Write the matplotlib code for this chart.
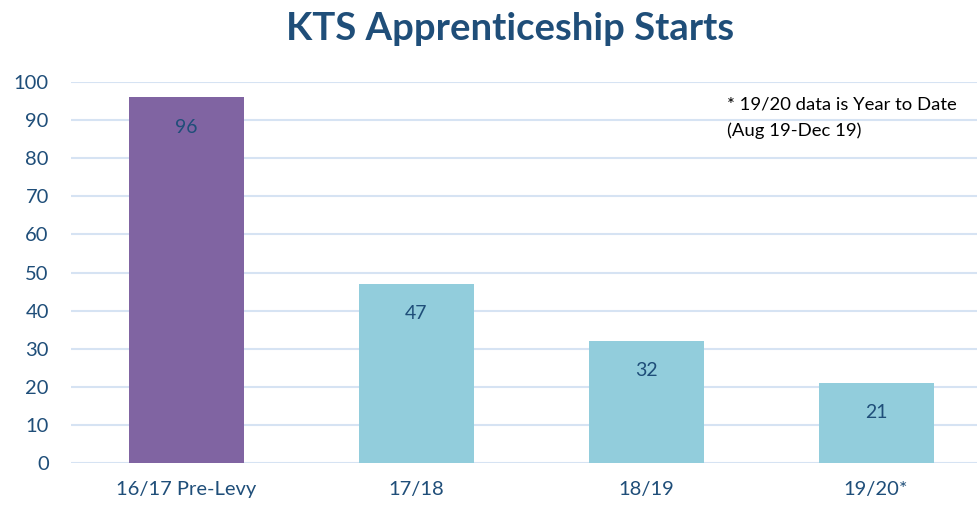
import matplotlib
matplotlib.use("Agg")
import matplotlib.pyplot as plt

# Chart data
categories = ["16/17 Pre-Levy", "17/18", "18/19", "19/20*"]
starts = [96, 47, 32, 21]
bar_colors = ["#8064A2", "#92CDDC", "#92CDDC", "#92CDDC"]
y_ticks = [0, 10, 20, 30, 40, 50, 60, 70, 80, 90, 100]
note_lines = ["* 19/20 data is Year to Date", "(Aug 19-Dec 19)"]

TEXT_BLUE = "#1F4E79"
GRID = "#D6E3F3"

plt.rcParams["font.family"] = ["Lato", "DejaVu Sans"]

fig = plt.figure(figsize=(9.77, 5.08), dpi=100)
ax = fig.add_axes([71 / 977, 45 / 508, 920 / 977, 381 / 508])

x = list(range(len(categories)))
ax.bar(x, starts, width=0.5, color=bar_colors, zorder=2)

# value labels inside the bars
for xi, v in zip(x, starts):
    ax.annotate(str(v), (xi, v), xytext=(0, -21.5), textcoords="offset points",
                ha="center", va="center", fontsize=14, color=TEXT_BLUE)

ax.set_xlim(-0.5, 3.5)
ax.set_ylim(0, 100)
ax.set_yticks(y_ticks)
ax.set_xticks(x)
ax.set_xticklabels(categories)
ax.tick_params(axis="both", length=0, labelsize=14.5, labelcolor=TEXT_BLUE)
ax.tick_params(axis="y", pad=16)
ax.tick_params(axis="x", pad=13)
ax.grid(axis="y", color=GRID, linewidth=1.5, zorder=0)
for s in ax.spines.values():
    s.set_visible(False)

fig.text(0.522, 1 - 29 / 508, "KTS Apprenticeship Starts", ha="center", va="center",
         fontsize=27.5, fontweight="bold", color=TEXT_BLUE)

# footnote, one line at a time
for i, line in enumerate(note_lines):
    fig.text(727 / 977, 1 - (104 + 27 * i) / 508, line,
             ha="left", va="center", fontsize=13.3, color="black")

fig.savefig("out.png", dpi=100)
